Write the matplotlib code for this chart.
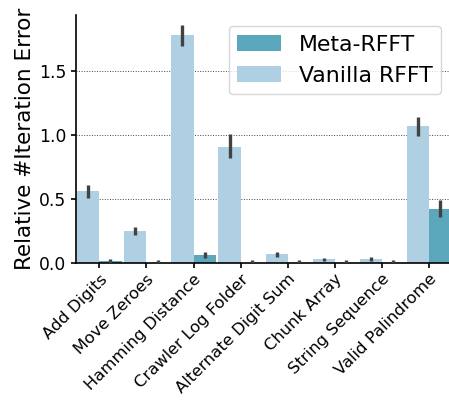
import numpy as np
import matplotlib
matplotlib.use("Agg")
import matplotlib.pyplot as plt

# Task names along the x axis
tasks = ["Add Digits", "Move Zeroes", "Hamming Distance", "Crawler Log Folder",
         "Alternate Digit Sum", "Chunk Array", "String Sequence", "Valid Palindrome"]

# Mean relative iteration error and confidence interval bounds
vanilla_mean = [0.56, 0.25, 1.78, 0.91, 0.07, 0.03, 0.03, 1.07]
vanilla_lo = [0.51, 0.22, 1.70, 0.82, 0.045, 0.015, 0.015, 0.99]
vanilla_hi = [0.61, 0.28, 1.86, 1.01, 0.09, 0.04, 0.045, 1.14]

meta_mean = [0.02, 0.0, 0.06, 0.0, 0.0, 0.0, 0.0, 0.42]
meta_lo = [0.005, 0.0, 0.04, 0.0, 0.0, 0.0, 0.0, 0.36]
meta_hi = [0.035, 0.022, 0.085, 0.022, 0.022, 0.022, 0.022, 0.49]

meta_color = "#5ba7bc"
vanilla_color = "#afd0e3"
err_color = "#424242"

fig = plt.figure(figsize=(4.49, 4.03), dpi=100)
ax = fig.add_axes([0.169, 0.347, 0.8385, 0.616])

x = np.arange(len(tasks))
w = 0.47

ax.bar(x - w / 2, vanilla_mean, w, color=vanilla_color, label="Vanilla RFFT", zorder=2)
ax.bar(x + w / 2, meta_mean, w, color=meta_color, label="Meta-RFFT", zorder=2)

# confidence intervals
ax.vlines(x - w / 2, vanilla_lo, vanilla_hi, color=err_color, linewidth=2.4, zorder=3)
ax.vlines(x + w / 2, meta_lo, meta_hi, color=err_color, linewidth=2.4, zorder=3)

ax.set_xlim(-0.5, len(tasks) - 0.5)
ax.set_ylim(0, 1.94)
ax.set_yticks([0.0, 0.5, 1.0, 1.5])
ax.set_xticks(x)
ax.set_xticklabels(tasks, rotation=45, ha="right", rotation_mode="anchor", fontsize=11.8)
ax.tick_params(axis="y", labelsize=12.3, width=1.2)
ax.tick_params(axis="x", width=1.2, pad=2.5)
ax.yaxis.grid(True, linestyle=":", color="#444444", linewidth=0.7, zorder=0)
ax.set_axisbelow(True)

for s in ["top", "right"]:
    ax.spines[s].set_visible(False)
for s in ["left", "bottom"]:
    ax.spines[s].set_linewidth(1.2)

ax.set_ylabel("Relative #Iteration Error", fontsize=15.5, labelpad=3)

handles, labels = ax.get_legend_handles_labels()
ax.legend(handles[::-1], labels[::-1], loc="upper right", fontsize=15.8)

fig.savefig("out.png", dpi=100)
